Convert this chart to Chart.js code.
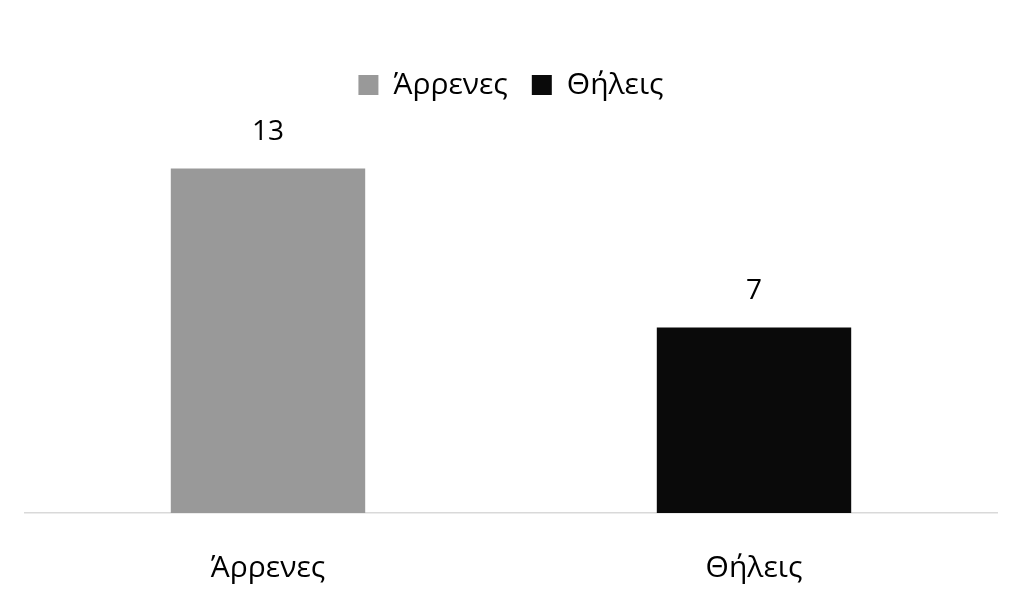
<!DOCTYPE html>
<html>
<head>
<meta charset="utf-8">
<script src="https://cdn.jsdelivr.net/npm/chart.js@4"></script>
<style>
  html, body { margin: 0; padding: 0; background: #fff; }
  #wrap { width: 1024px; height: 602px; }
</style>
</head>
<body>
<div id="wrap"><canvas id="gender-chart"></canvas></div>
<script>
const categories = ["Άρρενες", "Θήλεις"];
const maleValues = [13, null];
const femaleValues = [null, 7];
const seriesColors = ["#999999", "#0a0a0a"];

const FONT = "'Open Sans'";

// writes the value above each bar
const valueLabels = {
    id: "valueLabels",
    afterDatasetsDraw(chart) {
        const ctx = chart.ctx;
        ctx.save();
        ctx.font = "28px " + FONT;
        ctx.fillStyle = "#000";
        ctx.textAlign = "center";
        ctx.textBaseline = "middle";
        chart.data.datasets.forEach(function (ds, i) {
            chart.getDatasetMeta(i).data.forEach(function (bar, j) {
                if (ds.data[j] == null) return;
                ctx.fillText(ds.data[j], bar.x, bar.y - 36);
            });
        });
        ctx.restore();
    }
};

// extra room between legend and plot
const legendGap = {
    id: "legendGap",
    beforeInit(chart) {
        const fit = chart.legend.fit;
        chart.legend.fit = function () {
            fit.bind(chart.legend)();
            this.height += 32;
        };
    }
};

document.addEventListener("DOMContentLoaded", function () {
    const chartElement = document.getElementById("gender-chart").getContext("2d");
    new Chart(chartElement, {
        type: "bar",
        data: {
            labels: categories,
            datasets: [{
                label: categories[0],
                data: maleValues,
                backgroundColor: seriesColors[0],
            }, {
                label: categories[1],
                data: femaleValues,
                backgroundColor: seriesColors[1],
            }]
        },
        plugins: [valueLabels, legendGap],
        options: {
            responsive: true,
            maintainAspectRatio: false,
            animation: false,
            layout: {
                padding: { top: 46, left: 25, right: 27, bottom: 0 },
            },
            datasets: {
                bar: { barPercentage: 0.4, categoryPercentage: 1 },
            },
            plugins: {
                legend: {
                    position: "top",
                    labels: {
                        font: { family: FONT, size: 30 },
                        color: "#000",
                        boxWidth: 20,
                        boxHeight: 20,
                        padding: 24,
                    },
                },
                tooltip: { enabled: false },
            },
            scales: {
                x: {
                    stacked: true,
                    grid: { display: false },
                    border: { display: true, color: "#d9d9d9", width: 1.5 },
                    ticks: {
                        font: { family: FONT, size: 30 },
                        color: "#000",
                        padding: 29,
                    },
                    afterFit(scale) {
                        scale.height = 89;
                    },
                },
                y: {
                    stacked: true,
                    display: false,
                    min: 0,
                    max: 14,
                },
            },
        },
    });
});
</script>
</body>
</html>
